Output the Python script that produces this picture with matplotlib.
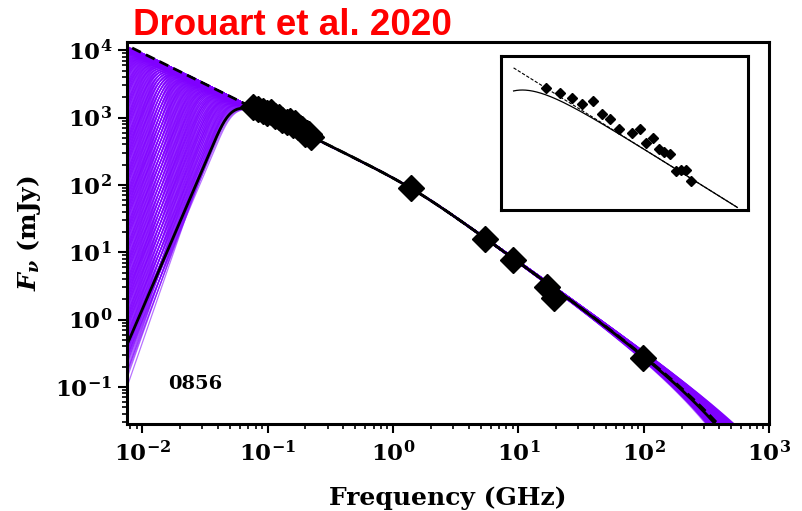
import numpy as np
import matplotlib
matplotlib.use("Agg")
import matplotlib.pyplot as plt

plt.rcParams.update({
    "font.family": "DejaVu Serif",
    "font.weight": "bold",
    "mathtext.fontset": "custom",
    "mathtext.rm": "DejaVu Serif:bold",
    "mathtext.bf": "DejaVu Serif:bold",
    "mathtext.it": "DejaVu Serif:italic:bold",
    "mathtext.default": "rm",
})

# ---- observed photometry (GHz, mJy) ----
gleam_freq = [0.076, 0.084, 0.092, 0.099, 0.107, 0.115, 0.122, 0.130, 0.143,
              0.151, 0.158, 0.166, 0.174, 0.181, 0.189, 0.197, 0.204, 0.212, 0.220]
gleam_flux = [1413, 1333, 1264, 1181, 1224, 1067, 1007, 907, 869,
              902, 777, 820, 731, 705, 687, 574, 582, 579, 513]
hf_freq = [1.39, 5.44, 8.97, 16.9, 19.05, 99.4]
hf_flux = [89.0, 15.7, 7.74, 3.05, 2.10, 0.271]

source_id = "0856"
ref_label = "Drouart et al. 2020"

# ---- best-fit model parameters ----
log_norm = 1.957       # log10 flux (mJy) scale at the break
alpha_low = -0.92      # spectral index below the break
alpha_high = -1.33     # spectral index above the break
nu_break = 1.5         # GHz
smooth = 0.35          # break smoothness (dex)
nu_cut = 500.0         # GHz, exponential high-frequency cutoff
nu_turn = 0.053        # GHz, absorption turnover
tau_index = 5.25       # opacity power-law index

# posterior sample ranges for the model band
n_draws = 380
depth_range = (-3.6, 2.0)          # log10 opacity at the pivot frequency
tau_range = (5.0, 6.3)
cut_range = (np.log10(350.0), np.log10(1500.0))
high_index_range = (-1.345, -1.315)
nu_pivot = 0.0235                  # GHz


def intrinsic(nu, lognorm, a1, a2, nub, dlt, nuc):
    x = np.log10(nu) - np.log10(nub)
    return (lognorm + a1 * x + (a2 - a1) * dlt * np.log10(1.0 + 10 ** (x / dlt))
            - (nu / nuc) * np.log10(np.e))


def absorbed(nu, nut, q, nuc=nu_cut, a2=alpha_high):
    tau = (nu / nut) ** (-q)
    base = intrinsic(nu, log_norm, alpha_low, a2, nu_break, smooth, nuc)
    return base + np.log10(-np.expm1(-tau) / tau)


nu = np.logspace(-2.3, 3.2, 900)

fig = plt.figure(figsize=(8.02, 5.11), dpi=100)
ax = fig.add_axes([0.158, 0.170, 0.801, 0.748])

purple = "#7f00ff"
phi = 0.6180339887
phi2 = 0.7548776662
phi3 = 0.5698402910
for i in range(n_draws):
    f = (i + 0.5) / n_draws
    depth = depth_range[0] + (depth_range[1] - depth_range[0]) * f
    q = tau_range[0] + (tau_range[1] - tau_range[0]) * ((i * phi) % 1.0)
    nut = nu_pivot * 10 ** (depth / q)
    nuc = 10 ** (cut_range[0] + (cut_range[1] - cut_range[0]) * ((i * phi2) % 1.0))
    a2 = high_index_range[0] + (high_index_range[1] - high_index_range[0]) * ((i * phi3) % 1.0)
    y = absorbed(nu, nut, q, nuc, a2)
    ax.plot(nu, 10 ** y, color=purple, lw=0.9, alpha=0.55, zorder=1)

y_free = intrinsic(nu, log_norm, alpha_low, alpha_high, nu_break, smooth, nu_cut * 1.15)
y_abs = absorbed(nu, nu_turn, tau_index)
ax.plot(nu, 10 ** y_abs, color="black", lw=2.0, zorder=3)
ax.plot(nu, 10 ** y_free, color="black", lw=2.0, ls=(0, (3.5, 2)), zorder=3)

all_freq = gleam_freq + hf_freq
all_flux = gleam_flux + hf_flux
ax.plot(all_freq, all_flux, ls="none", marker="D", ms=13, color="black", zorder=5)

ax.set_xscale("log")
ax.set_yscale("log")
ax.set_xlim(0.0075, 1000)
ax.set_ylim(0.028, 13300)

for s in ax.spines.values():
    s.set_linewidth(2.2)
ax.tick_params(which="major", direction="out", length=6.5, width=1.5, labelsize=16.5, pad=6)
ax.tick_params(which="minor", direction="out", length=3.5, width=1.2)
ax.tick_params(axis="y", pad=4)

ax.set_xlabel("Frequency (GHz)", fontsize=18, fontweight="bold", labelpad=14)
ax.set_ylabel(r"$\mathit{F}_{\mathit{\nu}}$ (mJy)", fontsize=18, fontweight="bold", labelpad=9)

ax.text(0.064, 0.106, source_id, transform=ax.transAxes, fontsize=14,
        fontweight="bold", va="center", ha="left")

fig.text(0.166, 0.9315, ref_label, color="red", fontsize=26.5, fontweight="bold",
         family="Liberation Sans", va="baseline", ha="left")

# zoomed view of the low-frequency data
ins = fig.add_axes([0.6247, 0.589, 0.308, 0.301])
ins.set_xscale("log")
ins.set_yscale("log")
ins.set_xlim(10 ** -1.262, 10 ** -0.476)
ins.set_ylim(10 ** 2.575, 10 ** 3.298)
nu_in = np.logspace(-1.222, -0.51, 300)
ins.plot(nu_in, 10 ** intrinsic(nu_in, log_norm, alpha_low, alpha_high, nu_break, smooth, nu_cut),
         color="black", lw=0.8, ls=(0, (3, 1.5)))
ins.plot(nu_in, 10 ** absorbed(nu_in, nu_turn, tau_index), color="black", lw=0.9)
ins.plot(gleam_freq, gleam_flux, ls="none", marker="D", ms=5.5, color="black")
ins.set_xticks([])
ins.set_yticks([])
ins.minorticks_off()
for s in ins.spines.values():
    s.set_linewidth(2.2)

fig.savefig("out.png", dpi=100)
